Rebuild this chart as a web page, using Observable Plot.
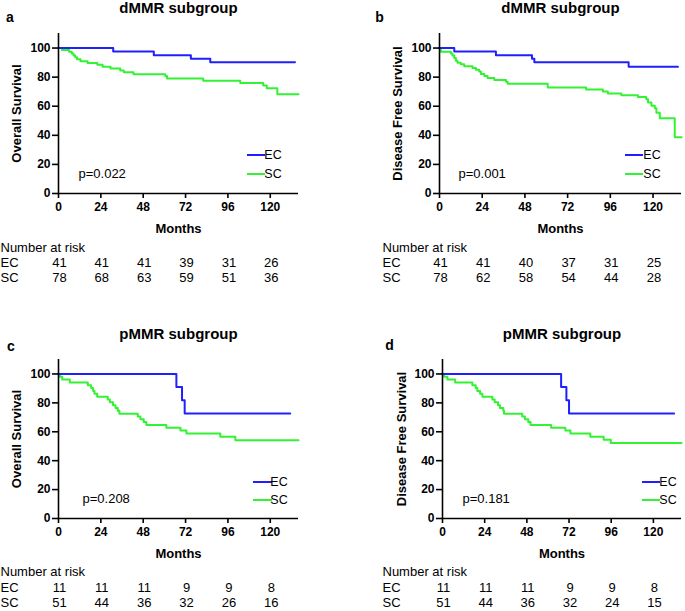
<!DOCTYPE html>
<html>
<head>
<meta charset="utf-8">
<script src="https://cdn.jsdelivr.net/npm/d3@7"></script>
<script src="https://cdn.jsdelivr.net/npm/@observablehq/plot@0.6"></script>
<style>
  html, body { margin: 0; padding: 0; background: #fff; }
  #wrap { position: relative; width: 685px; height: 611px; background: #fff; overflow: hidden; }
  #wrap > svg { position: absolute; }
</style>
</head>
<body>
<div id="wrap"></div>
<script>
// ---------- data ----------
const xTicks = [0, 24, 48, 72, 96, 120];
const yTicks = [0, 20, 40, 60, 80, 100];
const riskMonths = [0, 24, 48, 72, 96, 120];
const groups = ["EC", "SC"];

// Panel a: dMMR, Overall Survival  [month, survival %]
const aEC = [[0,100],[31,97.6],[54,95.1],[75,92.7],[86,90.2],[134,90.2]];
const aSC = [[0,100],[2,98.7],[6,97.4],[7.5,96.2],[8.5,94.9],[9.5,93.6],[10.5,92.3],[12.5,91.0],[16.5,89.7],[22,88.5],[25,87.2],[29.5,85.9],[35,84.6],[37,83.3],[42.5,82.0],[60.5,80.7],[61.5,79.0],[82,77.6],[103,76.0],[116,74.3],[118,72.4],[124,68.3],[136,68.3]];
const aRiskEC = [41, 41, 41, 39, 31, 26];
const aRiskSC = [78, 68, 63, 59, 51, 36];

// Panel b: dMMR, Disease Free Survival
const bEC = [[0,100],[8.3,97.6],[31.7,95.1],[52,92.7],[53.3,90.2],[106.3,87.2],[134,87.2]];
const bSC = [[0,100],[0.75,97.4],[6.4,96.2],[7.3,94.9],[8.3,93.1],[9.2,91.3],[10.1,89.9],[12,88.9],[13.9,87.4],[18.6,86.2],[20.5,85.0],[22.3,83.8],[23.3,82.1],[25.2,80.7],[27,79.4],[30.8,78.1],[37.4,76.8],[38.3,75.5],[60.8,72.9],[82.4,71.5],[91.8,70.1],[94.6,68.8],[102.2,67.6],[111.5,66.3],[116.2,64.8],[117.2,62.6],[119.1,60.3],[121,58.6],[121.9,55.6],[123.8,51.7],[132.2,38.7],[136,38.7]];
const bRiskEC = [41, 41, 40, 37, 31, 25];
const bRiskSC = [78, 62, 58, 54, 44, 28];

// Panel c: pMMR, Overall Survival
const cEC = [[0,100],[66.8,90.9],[70,81.8],[71.5,72.7],[131.3,72.7]];
const cSC = [[0,100],[0.75,98],[2.1,96.1],[6.4,94.1],[16.6,92.2],[18.5,90.2],[19.6,88.2],[20.4,86.3],[21.9,84.3],[27.9,82.4],[29.1,80.4],[30.9,78.4],[32.3,76.5],[33.6,74.5],[34.5,72.5],[44.9,70.6],[46.4,68.6],[48.3,66.7],[49.8,64.7],[61.1,62.7],[69.1,60.8],[72.5,58.8],[91.7,56.5],[100.2,54.2],[136,54.2]];
const cRiskEC = [11, 11, 11, 9, 9, 8];
const cRiskSC = [51, 44, 36, 32, 26, 16];

// Panel d: pMMR, Disease Free Survival
const dEC = [[0,100],[67.5,90.9],[70.5,81.8],[72,72.7],[131.8,72.7]];
const dSC = [[0,100],[0.9,98],[2.8,96.1],[7.2,94.1],[17,92.2],[18.9,90.2],[19.8,88.2],[21.4,86.3],[22.7,84.3],[28.4,82.4],[29.7,80.4],[31.6,78.4],[32.7,76.5],[34.6,74.5],[35,72.5],[45.4,70.6],[46.9,68.6],[48.8,66.7],[50.1,64.7],[61.8,62.7],[69.9,60.8],[72.8,58.8],[84.1,56.5],[91.7,54.4],[95.8,52.3],[136,52.3]];
const dRiskEC = [11, 11, 11, 9, 9, 8];
const dRiskSC = [51, 44, 36, 32, 24, 15];

const titles = ["dMMR subgroup", "dMMR subgroup", "pMMR subgroup", "pMMR subgroup"];
const letters = ["a", "b", "c", "d"];
const yLabels = ["Overall Survival", "Disease Free Survival", "Overall Survival", "Disease Free Survival"];
const pValues = ["p=0.022", "p=0.001", "p=0.208", "p=0.181"];

// ---------- styling / layout ----------
const BLUE = "#1f1fff";
const GREEN = "#33f233";
const FONT = "'Liberation Sans', Arial, Helvetica, sans-serif";

const panels = [
  {ec: aEC, sc: aSC, rEC: aRiskEC, rSC: aRiskSC,
   left: 0, top: 0, width: 340, height: 290, mL: 58, mR: 42, mT: 33, mB: 97,
   titleDy: -25, letterDx: -48.5, letterDy: -16, yLabDx: -41.5, pDx: 20, pDy: -20,
   legX: [189, 207, 215], legY: [-38, -19], monthsDy: 35, narDy: 54, ecDy: 69, scDy: 84, rowDx: -58},
  {ec: bEC, sc: bSC, rEC: bRiskEC, rSC: bRiskSC,
   left: 340, top: 0, width: 345, height: 290, mL: 99, mR: 4, mT: 33, mB: 97,
   titleDy: -25, letterDx: -60, letterDy: -16, yLabDx: -42, pDx: 19, pDy: -20,
   legX: [186, 204, 213], legY: [-38, -19], monthsDy: 35, narDy: 54, ecDy: 69, scDy: 84, rowDx: -57},
  {ec: cEC, sc: cSC, rEC: cRiskEC, rSC: cRiskSC,
   left: 0, top: 300, width: 340, height: 311, mL: 58, mR: 42, mT: 59, mB: 93,
   titleDy: -25, letterDx: -47.5, letterDy: -12.5, yLabDx: -41.3, pDx: 24, pDy: -20,
   legX: [195, 214, 221], legY: [-36, -18], monthsDy: 35, narDy: 53, ecDy: 69.5, scDy: 84.5, rowDx: -58},
  {ec: dEC, sc: dSC, rEC: dRiskEC, rSC: dRiskSC,
   left: 340, top: 300, width: 345, height: 311, mL: 102, mR: 4, mT: 59, mB: 93,
   titleDy: -25, letterDx: -53, letterDy: -14, yLabDx: -41, pDx: 20, pDy: -20,
   legX: [200, 218, 226], legY: [-36, -18], monthsDy: 35, narDy: 53, ecDy: 69.5, scDy: 84.5, rowDx: -60}
];

function legendMark(cfg) {
  return (index, scales, values, dims) => {
    const g = d3.create("svg:g");
    const x0 = dims.marginLeft;
    const yb = dims.height - dims.marginBottom;
    const cols = [BLUE, GREEN];
    groups.forEach((name, i) => {
      const y = yb + cfg.legY[i];
      g.append("line")
        .attr("x1", x0 + cfg.legX[0]).attr("x2", x0 + cfg.legX[1])
        .attr("y1", y).attr("y2", y)
        .attr("stroke", cols[i]).attr("stroke-width", 2);
      g.append("text")
        .attr("x", x0 + cfg.legX[2]).attr("y", y)
        .attr("dy", "0.35em")
        .attr("font-size", 12.5).attr("font-family", FONT)
        .attr("fill", "black")
        .text(name);
    });
    return g.node();
  };
}

const wrap = document.getElementById("wrap");
const T = {lineAnchor: "middle"};

panels.forEach((cfg, k) => {
  const riskEC = riskMonths.map((m, i) => ({m, n: cfg.rEC[i]}));
  const riskSC = riskMonths.map((m, i) => ({m, n: cfg.rSC[i]}));
  const chart = Plot.plot({
    width: cfg.width,
    height: cfg.height,
    marginLeft: cfg.mL,
    marginRight: cfg.mR,
    marginTop: cfg.mT,
    marginBottom: cfg.mB,
    x: {domain: [0, 136], axis: null},
    y: {domain: [0, 110], axis: null},
    style: {fontFamily: FONT, fontSize: "12px", color: "black", background: "white", overflow: "visible"},
    marks: [
      Plot.line(cfg.sc, {x: d => d[0], y: d => d[1], curve: "step-after", stroke: GREEN, strokeWidth: 2}),
      Plot.line(cfg.ec, {x: d => d[0], y: d => d[1], curve: "step-after", stroke: BLUE, strokeWidth: 2}),
      Plot.ruleX([0], {stroke: "black", strokeWidth: 1.6}),
      Plot.ruleY([0], {stroke: "black", strokeWidth: 1.6}),
      Plot.axisY({ticks: yTicks, tickSize: 6, tickPadding: 2, strokeWidth: 1.6, fontSize: 12, fontWeight: "bold", label: null}),
      Plot.axisX({ticks: xTicks, tickSize: 5, tickPadding: 4, strokeWidth: 1.6, fontSize: 12, fontWeight: "bold", label: null}),
      // titles & labels
      Plot.text([titles[k]], {...T, frameAnchor: "top", textAnchor: "middle", dy: cfg.titleDy, fontSize: 15, fontWeight: "bold"}),
      Plot.text([letters[k]], {...T, frameAnchor: "top-left", textAnchor: "middle", dx: cfg.letterDx, dy: cfg.letterDy, fontSize: 14, fontWeight: "bold"}),
      Plot.text([yLabels[k]], {...T, frameAnchor: "left", textAnchor: "middle", dx: cfg.yLabDx, rotate: -90, fontSize: 13, fontWeight: "bold"}),
      Plot.text(["Months"], {...T, frameAnchor: "bottom", textAnchor: "middle", dy: cfg.monthsDy, fontSize: 13, fontWeight: "bold"}),
      Plot.text([pValues[k]], {...T, frameAnchor: "bottom-left", dx: cfg.pDx, dy: cfg.pDy, textAnchor: "start", fontSize: 13}),
      legendMark(cfg),
      // number at risk table
      Plot.text(["Number at risk"], {...T, frameAnchor: "bottom-left", dx: cfg.rowDx, dy: cfg.narDy, textAnchor: "start", fontSize: 13}),
      Plot.text([groups[0]], {...T, frameAnchor: "bottom-left", dx: cfg.rowDx, dy: cfg.ecDy, textAnchor: "start", fontSize: 13}),
      Plot.text([groups[1]], {...T, frameAnchor: "bottom-left", dx: cfg.rowDx, dy: cfg.scDy, textAnchor: "start", fontSize: 13}),
      Plot.text(riskEC, {...T, x: "m", text: d => String(d.n), frameAnchor: "bottom", textAnchor: "middle", dy: cfg.ecDy, dx: 1, fontSize: 13}),
      Plot.text(riskSC, {...T, x: "m", text: d => String(d.n), frameAnchor: "bottom", textAnchor: "middle", dy: cfg.scDy, dx: 1, fontSize: 13})
    ]
  });
  chart.style.left = cfg.left + "px";
  chart.style.top = cfg.top + "px";
  wrap.appendChild(chart);
});
</script>
</body>
</html>
